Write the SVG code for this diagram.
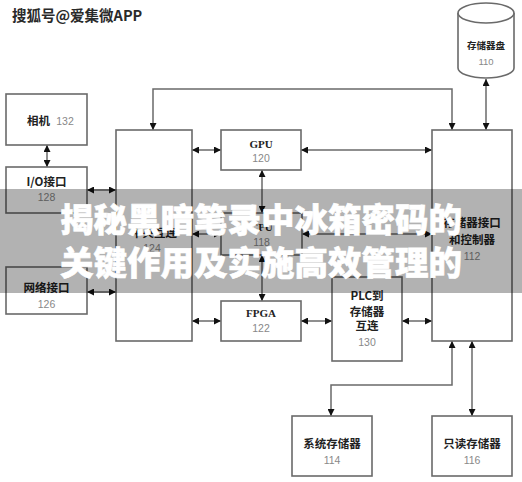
<svg xmlns="http://www.w3.org/2000/svg" width="522" height="482" viewBox="0 0 522 482">
<defs>
<marker id="ah" viewBox="0 0 10 10" refX="10" refY="5" markerWidth="7" markerHeight="7" markerUnits="userSpaceOnUse" orient="auto-start-reverse">
<path d="M0,0 L10,5 L0,10 z" fill="#111"/>
</marker>
<style>
.box{fill:#fff;stroke:#6a6a6a;stroke-width:1.6}
.ln{fill:none;stroke:#6a6a6a;stroke-width:1.5;marker-start:url(#ah);marker-end:url(#ah)}
.lb{font-family:"Noto Sans CJK SC","Noto Sans",sans-serif;font-weight:bold;font-size:11.5px;fill:#222;text-anchor:middle}
.sf{font-family:"Liberation Serif",serif;font-weight:bold;font-size:11px;fill:#222;text-anchor:middle}
.nm{font-family:"Liberation Sans",sans-serif;font-size:10.5px;fill:#888;text-anchor:middle}
.bn{font-family:"Noto Sans CJK SC",sans-serif;font-weight:900;font-size:33.5px;fill:#fff;stroke:#fff;stroke-width:0.6;text-anchor:middle}
</style>
</defs>
<rect width="522" height="482" fill="#fff"/>

<g id="connectors">
<path class="ln" d="M153,130 V89 H452 V130"/>
<path class="ln" d="M486,130 V79"/>
<path class="ln" d="M47,145 V167"/>
<path class="ln" d="M87,190 H116"/>
<path class="ln" d="M87,292 H116"/>
<path class="ln" d="M192,150 H221"/>
<path class="ln" d="M301,150 H432"/>
<path class="ln" d="M262,170 V213"/>
<path class="ln" d="M192,234 H221"/>
<path class="ln" d="M302,234 H432"/>
<path class="ln" d="M262,255 V301"/>
<path class="ln" d="M192,321 H221"/>
<path class="ln" d="M301,321 H332"/>
<path class="ln" d="M402,321 H432"/>
<path class="ln" d="M452,341 V385 H331 V416"/>
<path class="ln" d="M472,341 V416"/>
</g>

<g id="disk110">
<path class="box" d="M458,13 V68 A28,10 0 0 0 514,68 V13"/>
<ellipse class="box" cx="486" cy="13" rx="28" ry="10"/>
<text class="lb" x="486" y="49" style="font-size:9.5px">存储器盘</text>
<text class="nm" x="486" y="65" style="font-size:9.5px">110</text>
</g>

<g id="camera132">
<rect class="box" x="6" y="94" width="81" height="51"/>
<text class="lb" x="38.5" y="125">相机</text>
<text class="nm" x="65" y="125">132</text>
</g>

<g id="io128">
<rect class="box" x="6" y="167" width="81" height="46"/>
<text class="lb" x="46.5" y="186">I/O接口</text>
<text class="nm" x="46.5" y="201">128</text>
</g>

<g id="net126">
<rect class="box" x="6" y="267" width="81" height="47"/>
<text class="lb" x="46.5" y="292">网络接口</text>
<text class="nm" x="46.5" y="308">126</text>
</g>

<g id="proc124">
<rect class="box" x="116" y="130" width="76" height="211"/>
<text class="lb" x="154" y="237">中央互连</text>
<text class="nm" x="152" y="252">124</text>
</g>

<g id="gpu120">
<rect class="box" x="221" y="130" width="80" height="40"/>
<text class="sf" x="261" y="148">GPU</text>
<text class="nm" x="261" y="162">120</text>
</g>

<g id="cpu118">
<rect class="box" x="221" y="213" width="81" height="42"/>
<text class="sf" x="261.5" y="231">CPU</text>
<text class="nm" x="261.5" y="246">118</text>
</g>

<g id="fpga122">
<rect class="box" x="221" y="301" width="80" height="40"/>
<text class="sf" x="261" y="317">FPGA</text>
<text class="nm" x="261" y="332">122</text>
</g>

<g id="plc130">
<rect class="box" x="332" y="277" width="70" height="84"/>
<text class="lb" x="367" y="300">PLC到</text>
<text class="lb" x="367" y="316">存储器</text>
<text class="lb" x="367" y="330">互连</text>
<text class="nm" x="367" y="346">130</text>
</g>

<g id="memctl112">
<rect class="box" x="432" y="130" width="80" height="211"/>
<text class="lb" x="472" y="227">存储器接口</text>
<text class="lb" x="472" y="244">和控制器</text>
<text class="nm" x="472" y="260">112</text>
</g>

<g id="sysmem114">
<rect class="box" x="292" y="416" width="80" height="60"/>
<text class="lb" x="332" y="448">系统存储器</text>
<text class="nm" x="332" y="464">114</text>
</g>

<g id="rom116">
<rect class="box" x="432" y="416" width="80" height="60"/>
<text class="lb" x="472" y="448">只读存储器</text>
<text class="nm" x="472" y="464">116</text>
</g>

<g id="overlay">
<rect x="0" y="189" width="522" height="104" fill="#000" fill-opacity="0.3"/>
<text class="bn" x="261" y="232">揭秘黑暗笔录中冰箱密码的</text>
<text class="bn" x="261" y="275">关键作用及实施高效管理的</text>
<text x="12" y="21" font-family="Noto Sans CJK SC, sans-serif" font-weight="bold" font-size="14.5" fill="#2a2a2a" stroke="#fff" stroke-width="2" paint-order="stroke">搜狐号@爱集微APP</text>
</g>
</svg>
